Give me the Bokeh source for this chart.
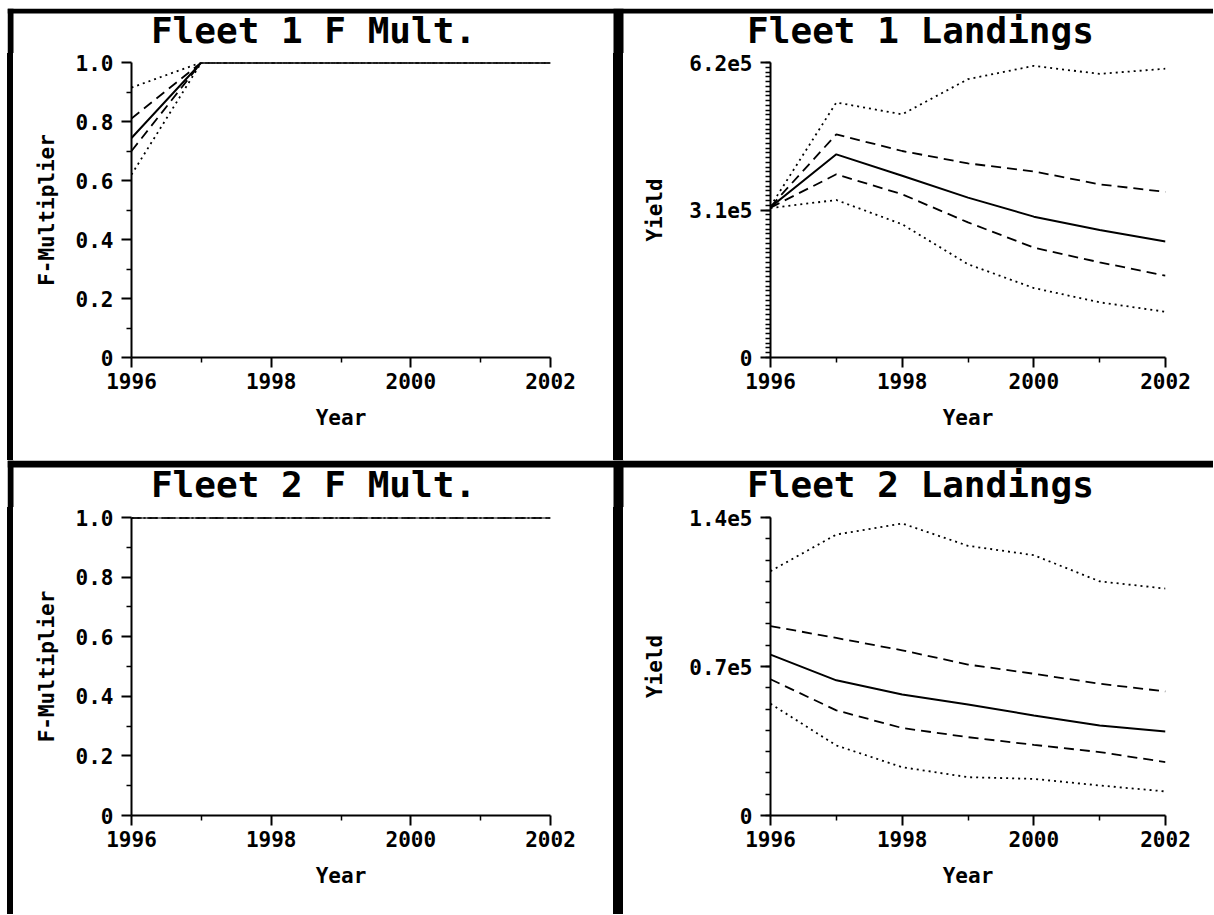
from bokeh.plotting import figure
from bokeh.models import Range1d, FixedTicker, Div, Label
from bokeh.layouts import column, row
from bokeh.embed import file_html
from bokeh.resources import INLINE

# ---------------- data ----------------
years = [1996, 1997, 1998, 1999, 2000, 2001, 2002]
x_major_ticks = [1996, 1998, 2000, 2002]
x_minor_ticks = [1997, 1999, 2001]

# Fleet 1 F multiplier (percentile bands)
f1_mult_p05 = [0.62, 1.0, 1.0, 1.0, 1.0, 1.0, 1.0]
f1_mult_p25 = [0.70, 1.0, 1.0, 1.0, 1.0, 1.0, 1.0]
f1_mult_p50 = [0.744, 1.0, 1.0, 1.0, 1.0, 1.0, 1.0]
f1_mult_p75 = [0.81, 1.0, 1.0, 1.0, 1.0, 1.0, 1.0]
f1_mult_p95 = [0.915, 1.0, 1.0, 1.0, 1.0, 1.0, 1.0]

# Fleet 2 F multiplier
f2_mult_p05 = [1.0, 1.0, 1.0, 1.0, 1.0, 1.0, 1.0]
f2_mult_p25 = [1.0, 1.0, 1.0, 1.0, 1.0, 1.0, 1.0]
f2_mult_p50 = [1.0, 1.0, 1.0, 1.0, 1.0, 1.0, 1.0]
f2_mult_p75 = [1.0, 1.0, 1.0, 1.0, 1.0, 1.0, 1.0]
f2_mult_p95 = [1.0, 1.0, 1.0, 1.0, 1.0, 1.0, 1.0]

# Fleet 1 landings (yield)
f1_land_p95 = [3.18e5, 5.36e5, 5.11e5, 5.85e5, 6.13e5, 5.96e5, 6.07e5]
f1_land_p75 = [3.17e5, 4.69e5, 4.34e5, 4.08e5, 3.91e5, 3.64e5, 3.48e5]
f1_land_p50 = [3.16e5, 4.27e5, 3.82e5, 3.36e5, 2.96e5, 2.68e5, 2.44e5]
f1_land_p25 = [3.15e5, 3.85e5, 3.43e5, 2.84e5, 2.31e5, 2.00e5, 1.72e5]
f1_land_p05 = [3.14e5, 3.31e5, 2.80e5, 1.96e5, 1.46e5, 1.16e5, 0.96e5]

# Fleet 2 landings (yield)
f2_land_p95 = [1.148e5, 1.32e5, 1.372e5, 1.267e5, 1.223e5, 1.10e5, 1.066e5]
f2_land_p75 = [0.89e5, 0.834e5, 0.776e5, 0.709e5, 0.666e5, 0.619e5, 0.583e5]
f2_land_p50 = [0.756e5, 0.635e5, 0.568e5, 0.521e5, 0.47e5, 0.423e5, 0.395e5]
f2_land_p25 = [0.64e5, 0.494e5, 0.411e5, 0.368e5, 0.332e5, 0.298e5, 0.251e5]
f2_land_p05 = [0.525e5, 0.329e5, 0.227e5, 0.18e5, 0.172e5, 0.141e5, 0.113e5]

mult_ticks = [0, 0.2, 0.4, 0.6, 0.8, 1.0]
mult_tick_labels = ["0", "0.2", "0.4", "0.6", "0.8", "1.0"]
mult_minor = [0.1, 0.3, 0.5, 0.7, 0.9]

f1_land_ticks = [0, 3.1e5, 6.2e5]
f1_land_tick_labels = ["0", "3.1e5", "6.2e5"]
f1_land_minor = [i * 1e4 for i in range(0, 63)]

f2_land_ticks = [0, 0.7e5, 1.4e5]
f2_land_tick_labels = ["0", "0.7e5", "1.4e5"]
f2_land_minor = [i * 1e4 for i in range(0, 15)]

titles_top = ["Fleet 1 F Mult.", "Fleet 1 Landings"]
titles_bottom = ["Fleet 2 F Mult.", "Fleet 2 Landings"]

FONT = "DejaVu Sans Mono"
DOTTED = "2 4"
DASHED = "10 6"
TOTAL_W = 1206
LEFT_BORDER = 6
DIV_X0, DIV_X1 = 606, 616       # vertical divider inside the strip
TITLE_CX = [306, 913]            # title centres inside the strip


def make_title_strip(texts, h, band, label_y):
    """Strip above a row of panels: the black band(s) plus the two titles."""
    t = figure(width=TOTAL_W, height=h, x_range=Range1d(0, TOTAL_W),
               y_range=Range1d(0, h), output_backend="svg",
               toolbar_location=None, min_border=0,
               min_border_left=0, min_border_right=0,
               min_border_top=0, min_border_bottom=0,
               x_axis_type=None, y_axis_type=None)
    t.outline_line_color = None
    t.grid.visible = False
    t.background_fill_color = "white"
    t.border_fill_color = "white"
    # horizontal band at the top, left border, vertical divider
    t.quad(left=[0, 0, DIV_X0], right=[TOTAL_W, LEFT_BORDER, DIV_X1],
           bottom=[h - band, 0, 0], top=[h, h, h],
           fill_color="black", line_color=None)
    for text, cx in zip(texts, TITLE_CX):
        t.add_layout(Label(x=cx, y=label_y, text=text, text_font=FONT,
                           text_font_size="36px", text_font_style="bold",
                           text_color="black", text_align="center",
                           text_baseline="middle"))
    return t


def make_panel(w, h, left, right, top, bottom, ymax, yticks, ylabels,
               yminor, ylabel, series, ylab_standoff):
    p = figure(width=w, height=h, x_range=Range1d(1996, 2002),
               y_range=Range1d(0, ymax), output_backend="svg",
               toolbar_location=None, min_border_left=left,
               min_border_right=right, min_border_top=top,
               min_border_bottom=bottom)
    p.outline_line_color = None
    p.grid.visible = False
    p.background_fill_color = "white"
    p.border_fill_color = "white"

    xa = p.xaxis[0]
    xa.ticker = FixedTicker(ticks=x_major_ticks, minor_ticks=x_minor_ticks)
    xa.major_label_overrides = {t_: str(t_) for t_ in x_major_ticks}
    xa.axis_label = "Year"
    ya = p.yaxis[0]
    ya.ticker = FixedTicker(ticks=yticks, minor_ticks=yminor)
    ya.major_label_overrides = {t_: l for t_, l in zip(yticks, ylabels)}
    ya.axis_label = ylabel
    for ax in (xa, ya):
        ax.axis_line_color = "black"
        ax.axis_line_width = 2
        ax.major_tick_line_color = "black"
        ax.major_tick_line_width = 2
        ax.minor_tick_line_color = "black"
        ax.minor_tick_line_width = 1.5
        ax.major_tick_in = 0
        ax.major_tick_out = 10
        ax.minor_tick_in = 0
        ax.minor_tick_out = 5
        ax.major_label_text_font = FONT
        ax.major_label_text_font_size = "21px"
        ax.major_label_text_font_style = "bold"
        ax.major_label_text_color = "black"
        ax.axis_label_text_font = FONT
        ax.axis_label_text_font_size = "21px"
        ax.axis_label_text_font_style = "bold"
        ax.axis_label_text_color = "black"
    xa.major_label_standoff = 5
    xa.axis_label_standoff = 14
    ya.major_label_standoff = 8
    ya.axis_label_standoff = ylab_standoff

    for vals, dash in series:
        lw = 2.0 if dash == "solid" else 1.8
        p.line(years, vals, line_color="black", line_width=lw, line_dash=dash)
    return p


f1m_series = [(f1_mult_p95, DOTTED), (f1_mult_p05, DOTTED),
              (f1_mult_p75, DASHED), (f1_mult_p25, DASHED),
              (f1_mult_p50, "solid")]
f2m_series = [(f2_mult_p95, DOTTED), (f2_mult_p05, DOTTED),
              (f2_mult_p75, DASHED), (f2_mult_p25, DASHED),
              (f2_mult_p50, "solid")]
f1l_series = [(f1_land_p95, DOTTED), (f1_land_p05, DOTTED),
              (f1_land_p75, DASHED), (f1_land_p25, DASHED),
              (f1_land_p50, "solid")]
f2l_series = [(f2_land_p95, DOTTED), (f2_land_p05, DOTTED),
              (f2_land_p75, DASHED), (f2_land_p25, DASHED),
              (f2_land_p50, "solid")]

PH = 407
tl = make_panel(600, PH, 118, 63, 9, 103, 1.0,
                mult_ticks, mult_tick_labels, mult_minor, "F-Multiplier",
                f1m_series, 14)
tr = make_panel(590, PH, 147, 48, 9, 103, 6.2e5,
                f1_land_ticks, f1_land_tick_labels, f1_land_minor, "Yield",
                f1l_series, 19)
bl = make_panel(600, PH, 118, 63, 10, 99, 1.0,
                mult_ticks, mult_tick_labels, mult_minor, "F-Multiplier",
                f2m_series, 14)
br = make_panel(590, PH, 147, 48, 10, 99, 1.4e5,
                f2_land_ticks, f2_land_tick_labels, f2_land_minor, "Yield",
                f2l_series, 19)

strip_top = make_title_strip(titles_top, 45, 5, 23.5)
strip_bottom = make_title_strip(titles_bottom, 47, 7, 22.75)


def bar(w, h):
    return Div(text="", width=w, height=h, margin=(0, 0, 0, 0),
               styles={"background-color": "black"})


layout = column(
    strip_top,
    row(bar(LEFT_BORDER, PH), tl, bar(10, PH), tr, spacing=0),
    strip_bottom,
    row(bar(LEFT_BORDER, PH), bl, bar(10, PH), br, spacing=0),
    spacing=0,
    margin=(8, 0, 0, 7),
)

open("out.html", "w").write(file_html(layout, INLINE))
